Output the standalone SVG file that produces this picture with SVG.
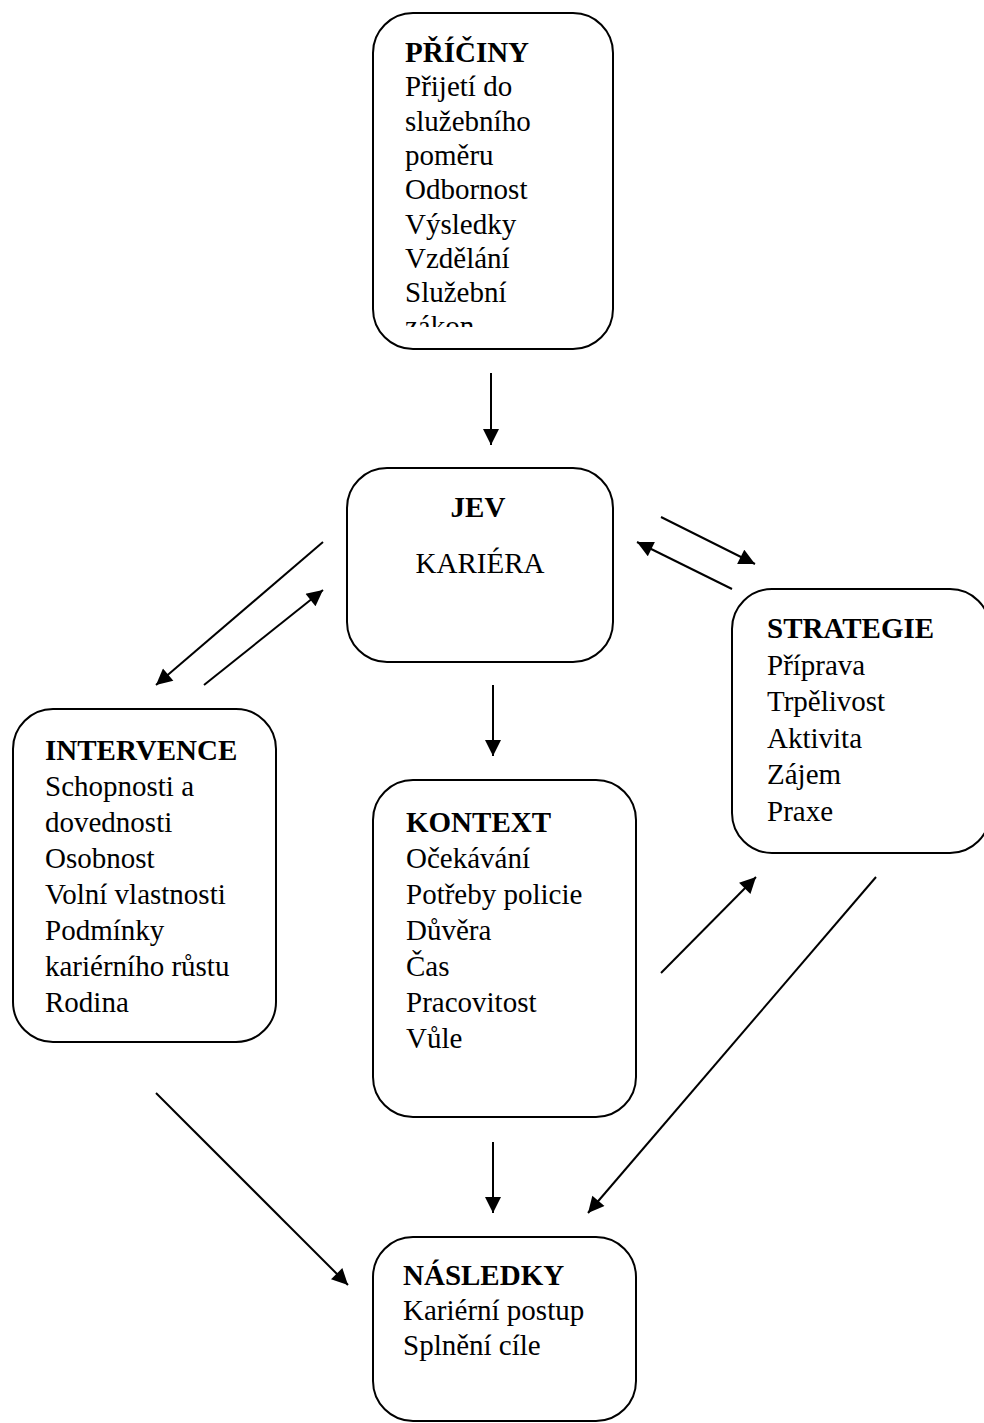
<svg xmlns="http://www.w3.org/2000/svg" width="984" height="1423" viewBox="0 0 984 1423">
  <style>
    .box { fill: #fff; stroke: #000; stroke-width: 2; }
    .t { font-family: "Liberation Serif", "Times New Roman", serif; font-size: 29px; fill: #000; }
    .h { font-weight: bold; }
    .c line { stroke: #000; stroke-width: 2; marker-end: url(#head); }
  </style>
  <defs>
    <marker id="head" viewBox="0 0 10 10" refX="10" refY="5" markerWidth="8.5" markerHeight="8" markerUnits="strokeWidth" orient="auto">
      <path d="M0,0 L10,5 L0,10 Z" fill="#000"/>
    </marker>
    <clipPath id="clip-priciny">
      <rect x="373" y="13" width="240" height="314"/>
    </clipPath>
  </defs>
  <rect width="984" height="1423" fill="#fff"/>

  <g id="priciny">
    <rect class="box" x="373" y="13" width="240" height="336" rx="40"/>
    <g clip-path="url(#clip-priciny)">
      <text class="t" x="405" y="62"><tspan class="h">PŘÍČINY</tspan><tspan x="405" dy="34.3">Přijetí do</tspan><tspan x="405" dy="34.3">služebního</tspan><tspan x="405" dy="34.3">poměru</tspan><tspan x="405" dy="34.3">Odbornost</tspan><tspan x="405" dy="34.3">Výsledky</tspan><tspan x="405" dy="34.3">Vzdělání</tspan><tspan x="405" dy="34.3">Služební</tspan><tspan x="405" dy="34.3">zákon</tspan></text>
    </g>
  </g>

  <g id="jev">
    <rect class="box" x="347" y="468" width="266" height="194" rx="40"/>
    <text class="t h" x="478" y="517" text-anchor="middle">JEV</text>
    <text class="t" x="480" y="573" text-anchor="middle">KARIÉRA</text>
  </g>

  <g id="strategie">
    <rect class="box" x="732" y="589" width="258" height="264" rx="40"/>
    <text class="t" x="767" y="638"><tspan class="h">STRATEGIE</tspan><tspan x="767" dy="36.6">Příprava</tspan><tspan x="767" dy="36.6">Trpělivost</tspan><tspan x="767" dy="36.6">Aktivita</tspan><tspan x="767" dy="36.6">Zájem</tspan><tspan x="767" dy="36.6">Praxe</tspan></text>
  </g>

  <g id="intervence">
    <rect class="box" x="13" y="709" width="263" height="333" rx="40"/>
    <text class="t" x="45" y="760"><tspan class="h">INTERVENCE</tspan><tspan x="45" dy="36">Schopnosti a</tspan><tspan x="45" dy="36">dovednosti</tspan><tspan x="45" dy="36">Osobnost</tspan><tspan x="45" dy="36">Volní vlastnosti</tspan><tspan x="45" dy="36">Podmínky</tspan><tspan x="45" dy="36">kariérního růstu</tspan><tspan x="45" dy="36">Rodina</tspan></text>
  </g>

  <g id="kontext">
    <rect class="box" x="373" y="780" width="263" height="337" rx="40"/>
    <text class="t" x="406" y="832"><tspan class="h">KONTEXT</tspan><tspan x="406" dy="36">Očekávání</tspan><tspan x="406" dy="36">Potřeby policie</tspan><tspan x="406" dy="36">Důvěra</tspan><tspan x="406" dy="36">Čas</tspan><tspan x="406" dy="36">Pracovitost</tspan><tspan x="406" dy="36">Vůle</tspan></text>
  </g>

  <g id="nasledky">
    <rect class="box" x="373" y="1237" width="263" height="184" rx="40"/>
    <text class="t" x="403" y="1285"><tspan class="h">NÁSLEDKY</tspan><tspan x="403" dy="35">Kariérní postup</tspan><tspan x="403" dy="35">Splnění cíle</tspan></text>
  </g>

  <g id="connectors" class="c">
    <line x1="491" y1="373" x2="491" y2="445"/>
    <line x1="493" y1="685" x2="493" y2="756"/>
    <line x1="661" y1="517" x2="755" y2="564"/>
    <line x1="732" y1="589" x2="637" y2="542"/>
    <line x1="323" y1="542" x2="156" y2="685"/>
    <line x1="204" y1="685" x2="323" y2="590"/>
    <line x1="661" y1="973" x2="756" y2="877"/>
    <line x1="876" y1="877" x2="588" y2="1213"/>
    <line x1="493" y1="1142" x2="493" y2="1213"/>
    <line x1="156" y1="1093" x2="348" y2="1285"/>
  </g>
</svg>
